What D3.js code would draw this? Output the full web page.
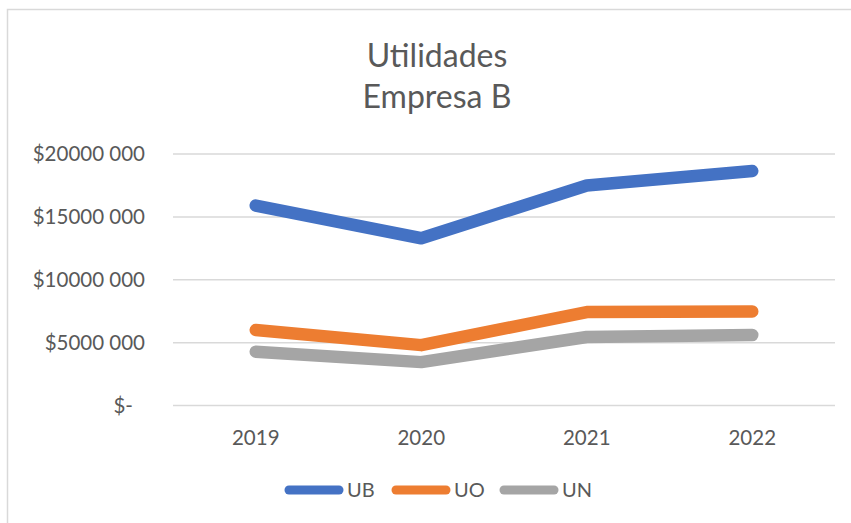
<!DOCTYPE html>
<html>
<head>
<meta charset="utf-8">
<script src="https://cdn.jsdelivr.net/npm/d3@7"></script>
<style>
  html, body { margin: 0; padding: 0; background: #fff; }
  svg { display: block; font-family: Lato, "Open Sans", sans-serif; }
</style>
</head>
<body>
<div id="chart"></div>
<script>
const years = ["2019", "2020", "2021", "2022"];
const ub = [15900000, 13300000, 17500000, 18650000];
const uo = [6000000, 4800000, 7430000, 7480000];
const un = [4280000, 3450000, 5450000, 5600000];
const yTicks = [0, 5000000, 10000000, 15000000, 20000000];
const seriesNames = ["UB", "UO", "UN"];
const seriesColors = ["#4472C4", "#ED7D31", "#A5A5A5"];

const width = 851, height = 523;
const margin = {top: 154, right: 16, bottom: 117.5, left: 173};

const svg = d3.select('#chart').append('svg')
    .attr('width', width)
    .attr('height', height);

// chart frame (only top and left edges are inside the picture)
svg.append('rect')
    .attr('x', 7.5).attr('y', 9.5)
    .attr('width', width).attr('height', height)
    .attr('fill', 'none')
    .attr('stroke', '#d9d9d9')
    .attr('stroke-width', 1.5);

const x = d3.scaleBand()
    .domain(years)
    .range([margin.left, width - margin.right]);

const y = d3.scaleLinear()
    .domain([0, 20000000])
    .range([height - margin.bottom, margin.top]);

// gridlines
svg.append('g')
    .selectAll('line')
    .data(yTicks)
    .enter()
    .append('line')
    .attr('x1', margin.left)
    .attr('x2', width - margin.right)
    .attr('y1', d => y(d))
    .attr('y2', d => y(d))
    .style('stroke', '#d9d9d9')
    .style('stroke-width', 1.5);

const fmt = d => d === 0 ? '$-' : '$' + Math.floor(d / 1000) + ' ' + String(d % 1000).padStart(3, '0');

// y axis labels
svg.append('g')
    .selectAll('text')
    .data(yTicks)
    .enter()
    .append('text')
    .attr('x', d => d === 0 ? 133 : 145)
    .attr('y', d => y(d))
    .attr('dy', '0.35em')
    .attr('text-anchor', 'end')
    .style('font-size', '20.5px')
    .style('fill', '#595959')
    .text(fmt);

// x axis labels
svg.append('g')
    .selectAll('text')
    .data(years)
    .enter()
    .append('text')
    .attr('x', d => x(d) + x.bandwidth() / 2)
    .attr('y', 445)
    .attr('text-anchor', 'middle')
    .style('font-size', '20.5px')
    .style('fill', '#595959')
    .text(d => d);

// title
const title = svg.append('text')
    .attr('x', 437)
    .attr('text-anchor', 'middle')
    .style('font-size', '32px')
    .style('fill', '#595959');
title.append('tspan').attr('x', 437).attr('y', 67).text('Utilidades');
title.append('tspan').attr('x', 437).attr('y', 108).text('Empresa B');

// lines
const allSeries = [ub, uo, un];
const line = d3.line()
    .x((d, i) => x(years[i]) + x.bandwidth() / 2)
    .y(d => y(d));

svg.append('g')
    .selectAll('path')
    .data(allSeries.slice().reverse())
    .enter()
    .append('path')
    .attr('d', line)
    .style('fill', 'none')
    .style('stroke', (d, i) => seriesColors[2 - i])
    .style('stroke-width', 12.5)
    .style('stroke-linecap', 'round')
    .style('stroke-linejoin', 'round');

// legend
const legendX = [285, 392, 500];
const lg = svg.append('g')
    .selectAll('g')
    .data(seriesNames)
    .enter()
    .append('g')
    .attr('transform', (d, i) => `translate(${legendX[i]},490)`);

lg.append('line')
    .attr('x1', 4).attr('x2', 54)
    .attr('y1', 0).attr('y2', 0)
    .style('stroke', (d, i) => seriesColors[i])
    .style('stroke-width', 9)
    .style('stroke-linecap', 'round');

lg.append('text')
    .attr('x', 62)
    .attr('y', 0)
    .attr('dy', '0.35em')
    .style('font-size', '20px')
    .style('fill', '#595959')
    .text(d => d);
</script>
</body>
</html>
